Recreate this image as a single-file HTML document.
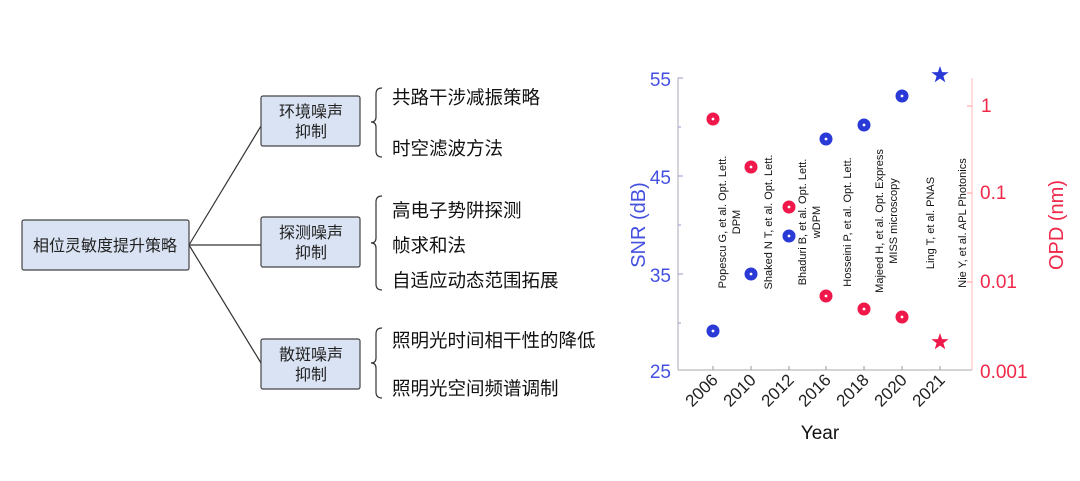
<!DOCTYPE html>
<html><head><meta charset="utf-8"><style>
body{margin:0;background:#fff;width:1080px;height:476px;overflow:hidden}
svg text{font-family:"Liberation Sans","Noto Sans CJK SC",sans-serif}
</style></head><body>
<svg width="1080" height="476" viewBox="0 0 1080 476" xmlns="http://www.w3.org/2000/svg">
<g stroke="#333" stroke-width="1.2" fill="none">
<line x1="189" y1="245" x2="261" y2="126"/>
<line x1="189" y1="245" x2="261" y2="245"/>
<line x1="189" y1="245" x2="261" y2="363"/>
</g>
<g fill="#dae3f3" stroke="#444" stroke-width="1.2">
<rect x="22" y="220" width="167" height="50" rx="2"/>
<rect x="261" y="96" width="99" height="50" rx="2"/>
<rect x="261" y="217" width="99" height="50" rx="2"/>
<rect x="261" y="339" width="99" height="50" rx="2"/>
</g>
<g font-size="16" fill="#222" text-anchor="middle">
<text x="105" y="251">相位灵敏度提升策略</text>
<text x="311" y="117">环境噪声</text><text x="311" y="137">抑制</text>
<text x="311" y="238">探测噪声</text><text x="311" y="258">抑制</text>
<text x="311" y="360">散斑噪声</text><text x="311" y="380">抑制</text>
</g>
<g stroke="#333" stroke-width="1.2" fill="none">
<path d="M382 88 Q376 88 376 94 L376 117 Q376 122 371 122 Q376 122 376 127 L376 151 Q376 157 382 157"/>
<path d="M382 196 Q376 196 376 202 L376 238 Q376 243 371 243 Q376 243 376 248 L376 284 Q376 290 382 290"/>
<path d="M382 328 Q376 328 376 334 L376 358 Q376 363 371 363 Q376 363 376 368 L376 392 Q376 398 382 398"/>
</g>
<g font-size="18.5" fill="#111">
<text x="392" y="104">共路干涉减振策略</text>
<text x="392" y="155">时空滤波方法</text>
<text x="392" y="217">高电子势阱探测</text>
<text x="392" y="252">帧求和法</text>
<text x="392" y="287">自适应动态范围拓展</text>
<text x="392" y="347">照明光时间相干性的降低</text>
<text x="392" y="395">照明光空间频谱调制</text>
</g>
<!-- chart -->
<g stroke-width="1">
<line x1="678" y1="78" x2="678" y2="370" stroke="#aab"/>
<line x1="972" y1="78" x2="972" y2="370" stroke="#fbb"/>
<line x1="678" y1="370" x2="972" y2="370" stroke="#aaa"/>
<g stroke="#99c"><line x1="678" y1="78" x2="683" y2="78"/><line x1="678" y1="127" x2="681" y2="127"/><line x1="678" y1="176" x2="683" y2="176"/><line x1="678" y1="225" x2="681" y2="225"/><line x1="678" y1="274" x2="683" y2="274"/><line x1="678" y1="323" x2="681" y2="323"/></g>
<g stroke="#f99"><line x1="967" y1="106" x2="972" y2="106"/><line x1="967" y1="193" x2="972" y2="193"/><line x1="967" y1="282" x2="972" y2="282"/></g>
<g stroke="#999"><line x1="713" y1="370" x2="713" y2="366"/><line x1="751" y1="370" x2="751" y2="366"/><line x1="789" y1="370" x2="789" y2="366"/><line x1="826" y1="370" x2="826" y2="366"/><line x1="864" y1="370" x2="864" y2="366"/><line x1="902" y1="370" x2="902" y2="366"/><line x1="940" y1="370" x2="940" y2="366"/></g>
</g>
<g font-size="19" fill="#4450e0" text-anchor="end">
<text x="671" y="86">55</text><text x="671" y="184">45</text><text x="671" y="282">35</text><text x="671" y="378">25</text>
</g>
<text transform="translate(645 225) rotate(-90)" font-size="20" fill="#4450e0" text-anchor="middle">SNR (dB)</text>
<g font-size="19" fill="#f0284a">
<text x="981" y="112">1</text><text x="980" y="199">0.1</text><text x="980" y="288">0.01</text><text x="980" y="378">0.001</text>
</g>
<text transform="translate(1063 225) rotate(-90)" font-size="20" fill="#f0284a" text-anchor="middle">OPD (nm)</text>
<g fill="#2a3ad6">
<circle cx="713" cy="331" r="6.5"/><circle cx="751" cy="274" r="6.5"/><circle cx="789" cy="236" r="6.5"/><circle cx="826" cy="139" r="6.5"/><circle cx="864" cy="125" r="6.5"/><circle cx="902" cy="96" r="6.5"/>
</g>
<g fill="#f0184a">
<circle cx="713" cy="119" r="6.5"/><circle cx="751" cy="167" r="6.5"/><circle cx="789" cy="207" r="6.5"/><circle cx="826" cy="296" r="6.5"/><circle cx="864" cy="309" r="6.5"/><circle cx="902" cy="317" r="6.5"/>
</g>
<g fill="#fff">
<circle cx="713" cy="331" r="1.4"/><circle cx="751" cy="274" r="1.4"/><circle cx="789" cy="236" r="1.4"/><circle cx="826" cy="139" r="1.4"/><circle cx="864" cy="125" r="1.4"/><circle cx="902" cy="96" r="1.4"/>
<circle cx="713" cy="119" r="1.4"/><circle cx="751" cy="167" r="1.4"/><circle cx="789" cy="207" r="1.4"/><circle cx="826" cy="296" r="1.4"/><circle cx="864" cy="309" r="1.4"/><circle cx="902" cy="317" r="1.4"/>
</g>
<polygon fill="#2a3ad6" transform="translate(940 75)" points="0,-9 2.1,-2.9 8.6,-2.8 3.4,1.1 5.3,7.3 0,3.6 -5.3,7.3 -3.4,1.1 -8.6,-2.8 -2.1,-2.9"/>
<polygon fill="#f0184a" transform="translate(940 342)" points="0,-9 2.1,-2.9 8.6,-2.8 3.4,1.1 5.3,7.3 0,3.6 -5.3,7.3 -3.4,1.1 -8.6,-2.8 -2.1,-2.9"/>
<g font-size="11" fill="#111" text-anchor="middle">
<text transform="translate(726 222) rotate(-90)">Popescu G, et al. Opt. Lett.</text>
<text transform="translate(740 222) rotate(-90)">DPM</text>
<text transform="translate(772 222) rotate(-90)">Shaked N T, et al. Opt. Lett.</text>
<text transform="translate(806 222) rotate(-90)">Bhaduri B, et al. Opt. Lett.</text>
<text transform="translate(820 222) rotate(-90)">wDPM</text>
<text transform="translate(851 222) rotate(-90)">Hosseini P, et al. Opt. Lett.</text>
<text transform="translate(883 221) rotate(-90)">Majeed H, et al. Opt. Express</text>
<text transform="translate(897 221) rotate(-90)">MISS microscopy</text>
<text transform="translate(934 223) rotate(-90)">Ling T, et al. PNAS</text>
<text transform="translate(966 223) rotate(-90)">Nie Y, et al. APL Photonics</text>
</g>
<g font-size="17" fill="#222" text-anchor="end">
<text transform="translate(719 381) rotate(-45)">2006</text>
<text transform="translate(757 381) rotate(-45)">2010</text>
<text transform="translate(795 381) rotate(-45)">2012</text>
<text transform="translate(832 381) rotate(-45)">2016</text>
<text transform="translate(870 381) rotate(-45)">2018</text>
<text transform="translate(908 381) rotate(-45)">2020</text>
<text transform="translate(946 381) rotate(-45)">2021</text>
</g>
<text x="820" y="439" font-size="19" fill="#111" text-anchor="middle">Year</text>
</svg>
</body></html>
